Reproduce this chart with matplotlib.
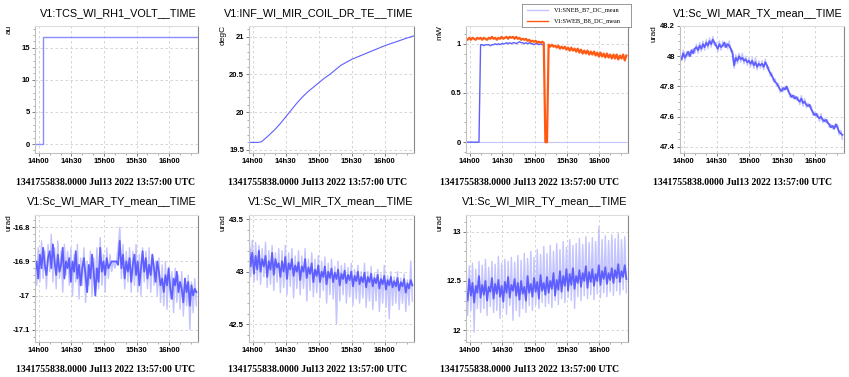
import matplotlib
matplotlib.use("Agg")
import matplotlib.pyplot as plt
import matplotlib.dates as mdates
from matplotlib.ticker import AutoMinorLocator, FixedLocator, FormatStrFormatter
import numpy as np
import pandas as pd

plt.rcParams['font.family'] = ['Liberation Sans', 'DejaVu Sans']

T0 = "2022-07-13 13:56:30"
T1 = "2022-07-13 16:26:30"
FOOTER = "1341755838.0000 Jul13 2022 13:57:00 UTC"

titles = ["V1:TCS_WI_RH1_VOLT__TIME", "V1:INF_WI_MIR_COIL_DR_TE__TIME", None,
          "V1:Sc_WI_MAR_TX_mean__TIME", "V1:Sc_WI_MAR_TY_mean__TIME",
          "V1:Sc_WI_MIR_TX_mean__TIME", "V1:Sc_WI_MIR_TY_mean__TIME"]
units = ["au", "degC", "mW", "urad", "urad", "urad", "urad"]
legend_labels = ["V1:SNEB_B7_DC_mean", "V1:SWEB_B8_DC_mean"]

# Panel 1 : step
rh1_times = ["13:56:30", "14:04:00", "14:04:00", "16:26:30"]
rh1_values = [0.0, 0.0, 16.7, 16.7]

# Panel 2 : coil temperature
coil_times = ["13:56:30", "14:00", "14:05", "14:08", "14:15", "14:20", "14:25", "14:30", "14:35",
              "14:40", "14:45", "14:50", "14:55", "15:00", "15:05", "15:10", "15:15", "15:20",
              "15:25", "15:30", "15:40", "15:50", "16:00", "16:10", "16:20", "16:26:30"]
coil_values = [19.60, 19.60, 19.60, 19.61, 19.70, 19.77, 19.85, 19.94, 20.03,
               20.12, 20.20, 20.27, 20.33, 20.39, 20.45, 20.50, 20.56, 20.62,
               20.66, 20.70, 20.76, 20.82, 20.88, 20.93, 20.98, 21.01]

# Panel 3 : B7 / B8 powers (100 samples, 1.5 min spacing)
sneb_b7 = [0.0]*9 + [
    0.99, 0.99, 0.98, 0.99, 0.99, 0.99, 0.98, 0.99, 0.99, 1.00,
    0.99, 1.00, 0.99, 1.00, 1.00, 1.00, 1.01, 1.00, 1.01, 1.00,
    1.01, 1.01, 1.00, 1.01, 1.02, 1.01, 1.01, 1.00, 1.01, 1.00,
    1.01, 1.00, 1.00, 0.99, 1.00, 1.00, 0.99, 1.00, 0.99] + [None]*52
sneb_b7_min = [0.0]*100
sweb_b8 = [
    1.05, 1.04, 1.06, 1.04, 1.06, 1.05, 1.04, 1.06, 1.05, 1.06,
    1.04, 1.06, 1.05, 1.04, 1.06, 1.05, 1.07, 1.05, 1.06, 1.04,
    1.06, 1.05, 1.07, 1.05, 1.06, 1.07, 1.05, 1.07, 1.06, 1.07,
    1.05, 1.07, 1.05, 1.06, 1.04, 1.05, 1.04, 1.05, 1.03, 1.04,
    1.02, 1.03, 1.02, 1.03, 1.01, 1.02, 1.01, 1.02, 1.01, 0.00,
    0.00, 0.99, 0.97, 0.99, 0.97, 0.98, 0.96, 0.98, 0.95, 0.97,
    0.95, 0.97, 0.94, 0.96, 0.93, 0.96, 0.93, 0.95, 0.92, 0.95,
    0.91, 0.94, 0.90, 0.93, 0.90, 0.93, 0.89, 0.92, 0.89, 0.92,
    0.88, 0.91, 0.87, 0.91, 0.87, 0.90, 0.86, 0.90, 0.86, 0.89,
    0.85, 0.89, 0.85, 0.89, 0.84, 0.88, 0.85, 0.89, 0.83, 0.88]

# Panel 4 : MAR TX
mar_tx = [
    48.00, 47.98, 48.02, 47.99, 48.01, 48.03, 48.00, 48.04, 48.02, 48.05,
    48.06, 48.04, 48.07, 48.05, 48.08, 48.06, 48.09, 48.07, 48.10, 48.08,
    48.11, 48.09, 48.07, 48.05, 48.08, 48.06, 48.07, 48.09, 48.06, 48.08,
    48.07, 48.05, 48.02, 47.94, 47.99, 47.97, 48.00, 47.98, 47.99, 47.97,
    47.98, 47.96, 47.97, 47.95, 47.97, 47.94, 47.96, 47.93, 47.95, 47.94,
    47.95, 47.93, 47.96, 47.94, 47.91, 47.89, 47.87, 47.85, 47.83, 47.82,
    47.80, 47.78, 47.77, 47.79, 47.78, 47.80, 47.77, 47.75, 47.73, 47.74,
    47.72, 47.73, 47.71, 47.70, 47.72, 47.69, 47.70, 47.68, 47.67, 47.68,
    47.65, 47.63, 47.61, 47.62, 47.60, 47.59, 47.60, 47.58, 47.57, 47.58,
    47.56, 47.55, 47.53, 47.54, 47.52, 47.55, 47.53, 47.50, 47.49, 47.48]
mar_tx_light = [
    48.03, 47.97, 48.04, 47.97, 48.03, 48.00, 48.03, 48.01, 48.05, 48.02,
    48.08, 48.02, 48.09, 48.03, 48.10, 48.04, 48.11, 48.05, 48.12, 48.06,
    48.13, 48.07, 48.09, 48.03, 48.10, 48.04, 48.10, 48.06, 48.09, 48.05,
    48.10, 48.03, 48.04, 47.92, 48.01, 47.95, 48.02, 47.96, 48.02, 47.95,
    48.00, 47.94, 47.99, 47.93, 47.99, 47.92, 47.99, 47.91, 47.97, 47.92,
    47.97, 47.91, 47.98, 47.92, 47.93, 47.87, 47.89, 47.83, 47.85, 47.80,
    47.82, 47.76, 47.79, 47.77, 47.80, 47.78, 47.79, 47.73, 47.75, 47.72,
    47.74, 47.71, 47.73, 47.68, 47.74, 47.67, 47.72, 47.66, 47.69, 47.66,
    47.67, 47.61, 47.63, 47.60, 47.62, 47.57, 47.62, 47.56, 47.59, 47.56,
    47.58, 47.53, 47.55, 47.52, 47.54, 47.53, 47.55, 47.48, 47.51, 47.45]

# Panel 5 : MAR TY (mean and min/max-like light trace)
mar_ty = [
    -16.93, -16.90, -16.95, -16.88, -16.92, -16.86, -16.91, -16.94, -16.89, -16.87,
    -16.92, -16.85, -16.90, -16.94, -16.88, -16.93, -16.91, -16.86, -16.95, -16.90,
    -16.92, -16.89, -16.96, -16.90, -16.93, -16.87, -16.95, -16.91, -16.97, -16.92,
    -16.89, -16.94, -16.99, -16.91, -16.95, -16.88, -16.93, -17.00, -16.92, -16.96,
    -16.86, -16.93, -16.90, -16.94, -16.89, -16.92, -16.91, -16.90, -16.90, -16.90,
    -16.90, -16.91, -16.84, -16.92, -16.88, -16.95, -16.90, -16.93, -16.89, -16.96,
    -16.91, -16.88, -16.94, -16.90, -16.97, -16.92, -16.87, -16.93, -16.89, -16.95,
    -16.91, -16.94, -16.88, -16.92, -16.96, -16.90, -16.93, -16.97, -16.95, -16.99,
    -16.94, -16.97, -16.92, -16.98, -17.01, -16.95, -16.97, -16.93, -16.99, -16.96,
    -16.98, -17.02, -16.95, -16.99, -16.96, -17.03, -16.97, -17.00, -16.98, -16.99]
mar_ty_light = [
    -16.88, -16.97, -16.86, -16.96, -16.84, -16.95, -16.87, -16.98, -16.85, -16.93,
    -16.82, -16.96, -16.86, -16.98, -16.84, -16.95, -16.87, -16.99, -16.85, -16.94,
    -16.87, -16.97, -16.86, -17.00, -16.88, -16.96, -16.85, -17.01, -16.89, -16.97,
    -16.86, -17.02, -16.90, -16.97, -16.87, -17.00, -16.89, -16.96, -16.86, -16.98,
    -16.83, -16.97, -16.88, -16.99, -16.86, -16.95, -16.88, -16.93, -16.90, -16.92,
    -16.90, -16.86, -16.80, -16.95, -16.85, -16.98, -16.87, -16.96, -16.86, -16.99,
    -16.87, -16.97, -16.85, -16.99, -16.88, -17.00, -16.86, -16.96, -16.87, -16.98,
    -16.86, -16.99, -16.88, -16.97, -16.90, -17.00, -16.89, -17.02, -16.91, -17.03,
    -16.90, -17.04, -16.92, -17.01, -16.93, -17.05, -16.92, -17.02, -16.94, -17.04,
    -16.93, -17.06, -16.95, -17.03, -16.94, -17.10, -16.96, -17.05, -16.95, -17.03]

# Panel 6 : MIR TX
mir_tx = [
    43.25, 43.05, 43.18, 42.98, 43.15, 43.02, 43.20, 43.00, 43.12, 43.05,
    43.15, 42.95, 43.10, 43.02, 43.18, 42.97, 43.12, 43.04, 43.08, 42.95,
    43.10, 43.00, 43.14, 42.93, 43.08, 43.02, 43.12, 42.96, 43.06, 43.00,
    43.09, 42.92, 43.05, 43.00, 43.12, 42.94, 43.04, 42.98, 43.08, 42.90,
    43.02, 42.96, 43.06, 42.90, 43.00, 42.95, 43.05, 42.88, 43.00, 42.94,
    43.03, 42.90, 42.99, 42.93, 43.02, 42.87, 42.98, 42.93, 43.01, 42.89,
    42.97, 42.92, 43.00, 42.86, 42.96, 42.91, 43.00, 42.88, 42.95, 42.90,
    42.99, 42.85, 42.95, 42.90, 42.98, 42.86, 42.94, 42.89, 42.97, 42.84,
    42.93, 42.88, 42.96, 42.83, 42.92, 42.87, 42.95, 42.85, 42.91, 42.86,
    42.94, 42.82, 42.90, 42.86, 42.93, 42.80, 42.89, 42.84, 42.92, 42.87]
mir_tx_light = [
    43.40, 42.95, 43.30, 42.90, 43.28, 42.92, 43.25, 42.88, 43.22, 42.95,
    43.28, 42.85, 43.20, 42.88, 43.25, 42.82, 43.18, 42.90, 43.22, 42.80,
    43.20, 42.85, 43.25, 42.78, 43.18, 42.86, 43.22, 42.75, 43.15, 42.84,
    43.20, 42.78, 43.15, 42.84, 43.22, 42.72, 43.12, 42.82, 43.18, 42.76,
    43.12, 42.80, 43.15, 42.75, 43.10, 42.82, 43.14, 42.70, 43.08, 42.78,
    43.12, 42.74, 43.05, 42.50, 43.10, 42.72, 43.06, 42.78, 43.08, 42.70,
    43.04, 42.76, 43.08, 42.68, 43.02, 42.74, 43.06, 42.70, 43.00, 42.75,
    43.08, 42.66, 43.00, 42.72, 43.05, 42.64, 42.98, 42.72, 43.02, 42.62,
    42.98, 42.70, 43.06, 42.66, 42.96, 42.55, 43.00, 42.68, 42.95, 42.70,
    43.00, 42.64, 42.94, 42.70, 42.98, 42.62, 42.92, 42.68, 43.10, 42.72]

# Panel 7 : MIR TY
mir_ty = [
    12.40, 12.30, 12.52, 12.35, 12.48, 12.28, 12.45, 12.38, 12.55, 12.33,
    12.46, 12.36, 12.50, 12.30, 12.44, 12.39, 12.53, 12.32, 12.47, 12.37,
    12.51, 12.34, 12.45, 12.29, 12.49, 12.38, 12.54, 12.33, 12.46, 12.40,
    12.52, 12.35, 12.48, 12.31, 12.50, 12.37, 12.44, 12.30, 12.55, 12.38,
    12.47, 12.34, 12.53, 12.39, 12.49, 12.32, 12.56, 12.40, 12.48, 12.36,
    12.54, 12.38, 12.50, 12.42, 12.58, 12.35, 12.51, 12.41, 12.60, 12.39,
    12.55, 12.45, 12.62, 12.40, 12.57, 12.46, 12.63, 12.42, 12.55, 12.48,
    12.61, 12.44, 12.58, 12.50, 12.65, 12.43, 12.59, 12.49, 12.62, 12.45,
    12.57, 12.50, 12.66, 12.46, 12.60, 12.52, 12.64, 12.47, 12.58, 12.51,
    12.63, 12.48, 12.61, 12.53, 12.67, 12.49, 12.60, 12.54, 12.66, 12.52]
mir_ty_light = [
    12.70, 12.15, 12.65, 12.20, 12.68, 11.98, 12.62, 12.22, 12.70, 12.18,
    12.66, 12.22, 12.72, 12.15, 12.64, 12.24, 12.70, 12.18, 12.67, 12.20,
    12.75, 12.12, 12.68, 12.22, 12.72, 12.16, 12.70, 12.25, 12.74, 12.10,
    12.69, 12.20, 12.76, 12.14, 12.71, 12.22, 12.78, 12.18, 12.73, 12.25,
    12.80, 12.20, 12.74, 12.26, 12.82, 12.22, 12.77, 12.28, 12.85, 12.24,
    12.78, 12.27, 12.86, 12.23, 12.80, 12.30, 12.88, 12.26, 12.82, 12.32,
    12.90, 12.28, 12.84, 12.33, 12.92, 12.30, 12.86, 12.22, 12.88, 12.34,
    12.93, 12.30, 12.87, 12.35, 12.95, 12.32, 12.89, 12.36, 12.94, 12.31,
    12.90, 12.37, 13.05, 12.33, 12.92, 12.38, 12.96, 12.34, 12.91, 12.39,
    12.97, 12.35, 12.93, 12.40, 12.98, 12.36, 12.92, 12.41, 12.95, 12.38]

ylims = [(-1.4, 18.4), (19.46, 21.14), (-0.11, 1.18), (47.36, 48.2),
         (-17.136, -16.764), (42.33, 43.54), (11.88, 13.17)]
yticks = [[0, 5, 10, 15], [19.5, 20, 20.5, 21], [0, 0.5, 1], [47.4, 47.6, 47.8, 48, 48.2],
          [-17.1, -17, -16.9, -16.8], [42.5, 43, 43.5], [12, 12.5, 13]]
yminor = [5, 5, 5, 4, 5, 5, 5]

BLUE = "#5f5fff"
LIGHT = "#c4c4ff"
ORANGE = "#ff5a14"

W, H = 849, 377
fig = plt.figure(figsize=(W/100, H/100), dpi=100)

cols = [(35, 198), (249, 414), (466, 628), (680, 844)]
rows = [(26, 153), (215, 342)]
pads = [(0, 212), (212, 424), (424, 636), (636, 849)]

def hm(s):
    if len(s) == 5:
        s = s + ":00"
    return pd.Timestamp("2022-07-13 " + s)

samples = pd.date_range(T0, periods=100, freq="90s")

axes = []
for i in range(7):
    r, c = divmod(i, 4)
    x0, x1 = cols[c]
    y0, y1 = rows[r]
    ax = fig.add_axes([x0/W, 1 - y1/H, (x1-x0)/W, (y1-y0)/H])
    axes.append(ax)
    ax.set_xlim(pd.Timestamp(T0), pd.Timestamp(T1))
    ax.set_ylim(*ylims[i])
    ax.yaxis.set_major_locator(FixedLocator(yticks[i]))
    ax.yaxis.set_major_formatter(FormatStrFormatter('%g'))
    ax.yaxis.set_minor_locator(AutoMinorLocator(yminor[i]))
    ax.xaxis.set_major_locator(mdates.MinuteLocator(byminute=[0, 30]))
    ax.xaxis.set_minor_locator(mdates.MinuteLocator(byminute=[10, 20, 40, 50]))
    ax.xaxis.set_major_formatter(mdates.DateFormatter('%Hh%M'))
    ax.grid(True, which='major', color='#cfcfcf', linestyle=(0, (3, 3)), linewidth=0.6)
    ax.set_axisbelow(True)
    for side, col in [('left', '#c0c0c0'), ('bottom', '#c0c0c0'), ('top', '#dddddd'), ('right', '#888888')]:
        ax.spines[side].set_color(col)
        ax.spines[side].set_linewidth(0.8)
    ax.tick_params(which='major', direction='out', length=2.5, width=0.6, color='#666666',
                   labelsize=5.5, pad=1.0)
    ax.tick_params(which='minor', direction='out', length=1.5, width=0.5, color='#888888')
    for lab in ax.get_xticklabels() + ax.get_yticklabels():
        lab.set_fontweight('bold')
    # footer
    px0, px1 = pads[c]
    fy = 182 if r == 0 else 370
    fig.text((px0+px1)/2/W, 1 - fy/H, FOOTER, ha='center', va='center',
             fontsize=7.0, fontweight='bold', family=['Liberation Serif', 'DejaVu Serif'])
    # unit
    fig.text((x0-26)/W, 1 - (y0-1)/H, units[i], rotation=90, ha='center', va='top', fontsize=6.0)
    # title
    if titles[i]:
        ty = 13 if r == 0 else 201
        fig.text((x1-1)/W, 1 - ty/H, titles[i], ha='right', va='center', fontsize=7.8)

# Panel 1
axes[0].plot([hm(t) for t in rh1_times], rh1_values, color="#8c8cff", lw=1.0)
# Panel 2
axes[1].plot([hm(t) for t in coil_times], coil_values, color=BLUE, lw=0.8)
# Panel 3
b7 = np.array([np.nan if v is None else v for v in sneb_b7], dtype=float)
axes[2].plot(samples, sneb_b7_min, color=LIGHT, lw=0.8)
axes[2].plot(samples, b7, color=BLUE, lw=1.0)
axes[2].plot(samples, sweb_b8, color=ORANGE, lw=1.6)
# Panels 4-7 : light min/max band + mean trace
for ax, light, dark, lwd in [(axes[3], mar_tx_light, mar_tx, 1.3),
                             (axes[4], mar_ty_light, mar_ty, 1.3),
                             (axes[5], mir_tx_light, mir_tx, 1.3),
                             (axes[6], mir_ty_light, mir_ty, 1.3)]:
    ax.fill_between(samples, light, dark, color=LIGHT, lw=0, alpha=0.8)
    ax.plot(samples, light, color=LIGHT, lw=1.0)
    ax.plot(samples, dark, color=BLUE, lw=lwd)

# Legend box for panel 3
lx0, lx1, ly0, ly1 = 522, 631, 4, 27
lax = fig.add_axes([lx0/W, 1 - ly1/H, (lx1-lx0)/W, (ly1-ly0)/H])
lax.set_xlim(0, 1); lax.set_ylim(0, 1)
lax.set_xticks([]); lax.set_yticks([])
for s in lax.spines.values():
    s.set_color('#888888'); s.set_linewidth(0.6)
for k, (lab, col) in enumerate(zip(legend_labels, [LIGHT, ORANGE])):
    yy = 0.73 - k*0.48
    lax.plot([0.05, 0.24], [yy, yy], color=col, lw=1.0)
    lax.text(0.29, yy, lab, va='center', ha='left', fontsize=4.6,
             family=['Liberation Serif', 'DejaVu Serif'])

fig.savefig("out.png", dpi=100)
